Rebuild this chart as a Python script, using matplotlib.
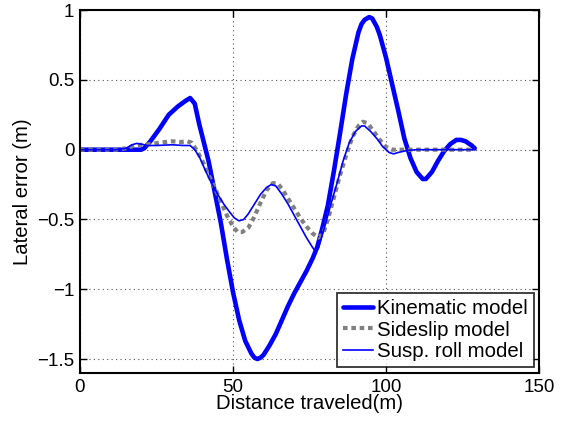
import matplotlib
matplotlib.use("Agg")
import matplotlib.pyplot as plt

plt.rcParams['font.family'] = ['Liberation Sans', 'DejaVu Sans']

# Kinematic model
kin_x = [0, 10, 20, 21, 23, 26, 29, 32, 34.5, 36, 37.5, 39, 40.5, 42, 44, 46, 48, 50, 52, 54, 56, 57,
         58, 59, 60, 62, 64, 66, 68, 70, 72, 74, 76, 77.5, 79, 81, 83, 85, 87, 89, 91, 92, 93, 94.5,
         95.5, 96, 97, 98, 100, 102, 104, 106, 108, 110, 112, 113, 115, 117, 119, 121, 123, 124.5,
         126, 128, 129]
kin_y = [0, 0, 0, 0.01, 0.06, 0.15, 0.25, 0.31, 0.35, 0.37, 0.33, 0.18, 0.05, -0.08, -0.30, -0.52,
         -0.78, -1.02, -1.22, -1.37, -1.46, -1.49, -1.50, -1.49, -1.47, -1.40, -1.32, -1.22, -1.12,
         -1.03, -0.95, -0.87, -0.78, -0.70, -0.58, -0.40, -0.15, 0.12, 0.40, 0.65, 0.84, 0.90, 0.93,
         0.95, 0.94, 0.92, 0.88, 0.82, 0.66, 0.47, 0.28, 0.08, -0.06, -0.16, -0.21, -0.21, -0.16,
         -0.08, -0.01, 0.04, 0.07, 0.07, 0.06, 0.03, 0.01]

# Sideslip model
side_x = [0, 12, 15, 18, 20, 23, 26, 30, 33, 35, 36.5, 38, 40, 42, 44, 46, 48, 50, 51.5, 53, 55, 57,
          59, 61, 63, 64.5, 66, 68, 70, 72, 74, 76, 78, 79.5, 81, 83, 85, 87, 89, 91, 92.5, 94, 96,
          98, 100, 102, 105, 129]
side_y = [0, 0, 0.01, 0.03, 0.035, 0.04, 0.05, 0.06, 0.055, 0.06, 0.05, 0.0, -0.08, -0.18, -0.27,
          -0.37, -0.47, -0.55, -0.59, -0.59, -0.56, -0.48, -0.38, -0.29, -0.24, -0.24, -0.28, -0.35,
          -0.42, -0.49, -0.55, -0.60, -0.63, -0.60, -0.50, -0.34, -0.18, -0.04, 0.09, 0.17, 0.20,
          0.19, 0.13, 0.07, 0.02, 0.0, 0, 0]

# Susp. roll model
roll_x = [0, 12, 15, 17, 18.5, 20, 22, 25, 30, 34, 36, 37.5, 39, 41, 43, 45, 47, 49, 50.5, 52, 53.5,
          55, 57, 59, 61, 62.5, 64, 66, 68, 70, 72, 74, 76, 77, 78, 80, 82, 84, 86, 88, 90, 92, 93,
          95, 97, 99, 101, 102.5, 104, 107, 110, 129]
roll_y = [0, 0, 0.01, 0.035, 0.045, 0.04, 0.03, 0.03, 0.035, 0.03, 0.03, 0.0, -0.05, -0.15, -0.24,
          -0.32, -0.39, -0.45, -0.49, -0.51, -0.50, -0.46, -0.39, -0.32, -0.27, -0.25, -0.26, -0.32,
          -0.39, -0.47, -0.55, -0.63, -0.70, -0.73, -0.70, -0.55, -0.39, -0.24, -0.08, 0.05, 0.13,
          0.17, 0.17, 0.13, 0.08, 0.02, -0.02, -0.03, -0.02, -0.005, 0, 0]

x_ticks = [0, 50, 100, 150]
y_ticks = [-1.5, -1, -0.5, 0, 0.5, 1]
y_ticklabels = ['\u22121.5', '\u22121', '\u22120.5', '0', '0.5', '1']

fig = plt.figure(figsize=(5.66, 4.21), dpi=100)
ax = fig.add_axes([0.1413, 0.114, 0.811, 0.862])

ax.plot(kin_x, kin_y, color='#0000ff', lw=3.3, label='Kinematic model',
        solid_capstyle='round', solid_joinstyle='round')
ax.plot(side_x, side_y, color='#808080', lw=3.0, ls=(0, (1.1, 0.9)), label='Sideslip model')
ax.plot(roll_x, roll_y, color='#0000ff', lw=1.2, label='Susp. roll model')

ax.set_xlim(0, 150)
ax.set_ylim(-1.6, 1)
ax.set_xticks(x_ticks)
ax.set_xticklabels([str(t) for t in x_ticks])
ax.set_yticks(y_ticks)
ax.set_yticklabels(y_ticklabels)

ax.grid(True, ls=(0, (1, 3)), color='#555555', lw=0.8)
ax.tick_params(direction='in', length=5, width=1, top=True, right=True, labelsize=13.5, pad=4)
for s in ax.spines.values():
    s.set_linewidth(1.5)

ax.set_xlabel('Distance traveled(m)', fontsize=14.6, labelpad=-1)
ax.set_ylabel('Lateral error (m)', fontsize=14.6, labelpad=4)

leg = ax.legend(loc='lower right', bbox_to_anchor=(0.989, 0.016), borderaxespad=0, fontsize=14.7,
                frameon=True, fancybox=False, handlelength=1.47, handletextpad=0.2,
                labelspacing=0.12, borderpad=0.3)
leg.get_frame().set_edgecolor('black')
leg.get_frame().set_linewidth(1.3)

fig.savefig('out.png', dpi=100)
